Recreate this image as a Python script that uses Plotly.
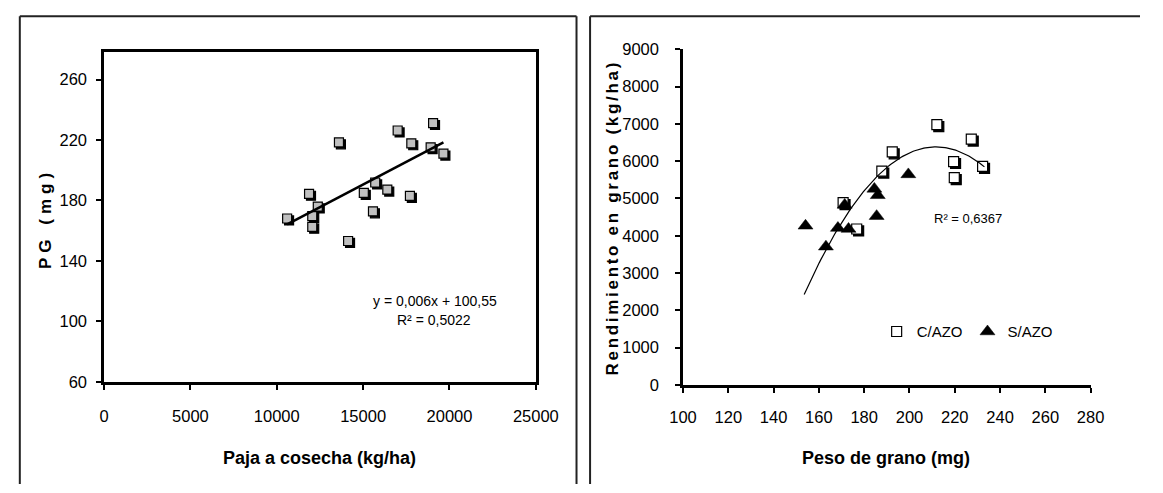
import numpy as np
import plotly.graph_objects as go

W, H = 1163, 493

# ---- Left chart: Paja a cosecha vs PG ----
paja = [10600, 11870, 12375, 12055, 12055, 13600, 14130, 15040, 15570,
        15700, 16400, 17710, 17000, 17790, 18910, 19650, 19050]
pg = [168.1, 184.4, 176.0, 169.6, 162.6, 218.4, 153.2, 185.0, 172.8,
      191.9, 187.2, 183.0, 226.3, 217.8, 215.2, 211.0, 231.2]
lin_slope, lin_intercept = 0.006, 100.55
eq_text = "y = 0,006x + 100,55"
r2_left = "R² = 0,5022"
left_xtitle = "Paja a cosecha (kg/ha)"
left_ytitle = "PG (mg)"

# ---- Right chart: Peso de grano vs Rendimiento ----
peso_c = [212.1, 227.3, 219.5, 219.8, 232.3, 192.4, 187.8, 170.7, 176.7]
rend_c = [6982, 6594, 5991, 5560, 5862, 6250, 5733, 4888, 4181]
peso_s = [154.1, 163.1, 168.4, 173.1, 171.4, 184.5, 186.0, 185.5, 199.5]
rend_s = [4267, 3706, 4207, 4181, 4828, 5258, 5086, 4526, 5646]
quad_coef = [-1.17, 495.4, -46056]
quad_xmin, quad_xmax = 153.5, 233.1
r2_right = "R² = 0,6367"
right_xtitle = "Peso de grano (mg)"
right_ytitle = "Rendimiento en grano (kg/ha)"


def px(x):
    return x / W


def py(y):
    return 1 - y / H


FONT = "Liberation Sans, Arial, sans-serif"
fig = go.Figure()

# left: shadow subplot (xy) drawn first, then main subplot (x2y2)
fig.add_trace(go.Scatter(x=paja, y=pg, mode="markers", xaxis="x", yaxis="y",
                         marker=dict(symbol="square", size=9, color="black",
                                     line=dict(color="black", width=1.2)),
                         showlegend=False, hoverinfo="skip"))
fig.add_trace(go.Scatter(x=paja, y=pg, mode="markers", xaxis="x2", yaxis="y2",
                         marker=dict(symbol="square", size=9, color="#c0c0c0",
                                     line=dict(color="black", width=1.2)),
                         showlegend=False))
lx = np.array([min(paja), max(paja)])
fig.add_trace(go.Scatter(x=lx, y=lin_slope * lx + lin_intercept, mode="lines",
                         xaxis="x2", yaxis="y2", line=dict(color="black", width=2.5),
                         showlegend=False))

# right: shadow subplot (x3y3), then main subplot (x4y4)
fig.add_trace(go.Scatter(x=peso_c, y=rend_c, mode="markers", xaxis="x3", yaxis="y3",
                         marker=dict(symbol="square", size=10, color="black",
                                     line=dict(color="black", width=1.2)),
                         showlegend=False, hoverinfo="skip"))
fig.add_trace(go.Scatter(x=peso_c, y=rend_c, mode="markers", xaxis="x4", yaxis="y4",
                         name="C/AZO",
                         marker=dict(symbol="square", size=10, color="white",
                                     line=dict(color="black", width=1.2))))
fig.add_trace(go.Scatter(x=peso_s, y=rend_s, mode="markers", xaxis="x4", yaxis="y4",
                         name="S/AZO",
                         marker=dict(symbol="triangle-up", size=13, color="black",
                                     line=dict(color="black", width=0.5))))
qx = np.linspace(quad_xmin, quad_xmax, 120)
fig.add_trace(go.Scatter(x=qx, y=np.polyval(quad_coef, qx), mode="lines",
                         xaxis="x4", yaxis="y4", line=dict(color="black", width=1.2),
                         showlegend=False))

L = dict(x0=93, x1=539, top=45, bot=387)
R = dict(x0=691, x1=1112, top=42, bot=390)
bare = dict(visible=True, showline=False, showgrid=False, zeroline=False,
            showticklabels=False, ticks="")
tickf = dict(family=FONT, size=16.5, color="black")
common = dict(showgrid=False, zeroline=False, showline=True, linecolor="black",
              linewidth=2.5, ticks="outside", ticklen=5, tickwidth=1.5,
              tickcolor="black", tickfont=tickf, tickformat="d")

frame = dict(color="#222", width=2)


def vline(x, y_top):
    return dict(type="line", xref="paper", yref="paper", x0=px(x), x1=px(x),
                y0=0, y1=py(y_top), line=frame)


def hline(x_a, x_b, y):
    return dict(type="line", xref="paper", yref="paper", x0=px(x_a), x1=px(x_b),
                y0=py(y), y1=py(y), line=frame)


def label(text, x, y, size, angle=0):
    return dict(text=text, xref="paper", yref="paper", x=px(x), y=py(y),
                xanchor="center", yanchor="middle", showarrow=False, textangle=angle,
                font=dict(family=FONT, size=size, color="black"))


fig.update_layout(
    width=W, height=H, margin=dict(l=0, r=0, t=0, b=0),
    paper_bgcolor="white", plot_bgcolor="rgba(0,0,0,0)",
    xaxis=dict(domain=[px(L["x0"] + 2), px(L["x1"] + 2)], range=[0, 25000], anchor="y", **bare),
    yaxis=dict(domain=[py(L["bot"] + 2), py(L["top"] + 2)], range=[60, 278], anchor="x", **bare),
    xaxis2=dict(domain=[px(L["x0"]), px(L["x1"])], range=[0, 25000], anchor="y2",
                dtick=5000, mirror=True, ticklabelstandoff=13, **common),
    yaxis2=dict(domain=[py(L["bot"]), py(L["top"])], range=[60, 278], anchor="x2",
                tick0=60, dtick=40, mirror=True, ticklabelstandoff=6, **common),
    xaxis3=dict(domain=[px(R["x0"] + 2), px(R["x1"] + 2)], range=[100, 280], anchor="y3", **bare),
    yaxis3=dict(domain=[py(R["bot"] + 2), py(R["top"] + 2)], range=[0, 9000], anchor="x3", **bare),
    xaxis4=dict(domain=[px(R["x0"]), px(R["x1"])], range=[100, 280], anchor="y4",
                dtick=20, ticklabelstandoff=11, **common),
    yaxis4=dict(domain=[py(R["bot"]), py(R["top"])], range=[0, 9000], anchor="x4",
                dtick=1000, ticklabelstandoff=13, **common),
    legend=dict(orientation="h", x=px(891), y=py(335), xanchor="left", yanchor="middle",
                font=dict(family=FONT, size=15, color="black"), bgcolor="rgba(0,0,0,0)",
                itemwidth=30),
    shapes=[
        vline(6, 7.5), hline(6, 581, 7.5), vline(581, 7.5),
        vline(595, 7.5), hline(595, W, 7.5),
    ],
    annotations=[
        label("<b>" + left_xtitle + "</b>", 316, 466, 18),
        label("<b><span style='letter-spacing:5px'>" + left_ytitle + "</span></b>", 32, 217, 17, -90),
        label("<b>" + right_xtitle + "</b>", 901, 466, 18),
        label("<b><span style='letter-spacing:2.7px'>" + right_ytitle + "</span></b>", 618, 216, 17, -90),
        label(eq_text, 435, 303, 14),
        label(r2_left, 434, 323, 14),
        label(r2_right, 985, 217, 13),
    ],
)

fig.write_html("out.html")
